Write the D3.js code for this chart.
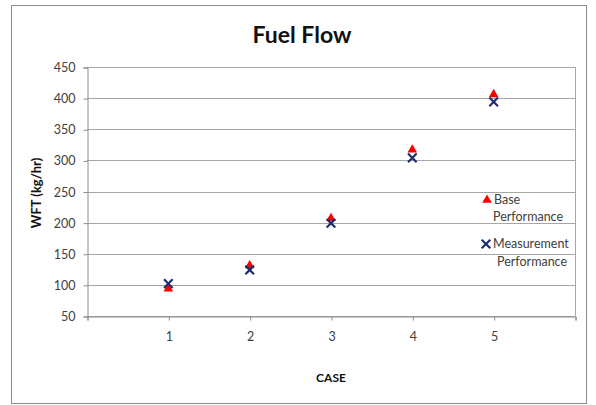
<!DOCTYPE html>
<html>
<head>
<meta charset="utf-8">
<script src="https://cdn.jsdelivr.net/npm/d3@7"></script>
<style>
  body { margin: 0; background: #fff; }
  svg text { font-family: Lato, "Open Sans", sans-serif; }
</style>
</head>
<body>
<svg id="canvas" width="596" height="405"></svg>
<script>
let cases = [1, 2, 3, 4, 5];
let basePerformance = [94, 131, 207, 317, 406];
let measurementPerformance = [102, 124, 199, 304, 394];
let yTicks = [50, 100, 150, 200, 250, 300, 350, 400, 450];
let xTicks = [0, 1, 2, 3, 4, 5, 6];

let canvas = d3.select('#canvas');

// outer chart frame
canvas.append('rect')
  .attr('x', 11.5).attr('y', 5.5)
  .attr('width', 575).attr('height', 398)
  .attr('fill', '#fff')
  .attr('stroke', '#8c8c8c');

let plotLeft = 87, plotRight = 575, plotTop = 67, plotBottom = 316;

let xScale = d3.scaleLinear().domain([0, 6]).range([plotLeft, plotRight]);
let yScale = d3.scaleLinear().domain([50, 450]).range([plotBottom, plotTop]);

// gridlines
canvas.append('g')
  .selectAll('line')
  .data(yTicks)
  .enter()
  .append('line')
  .attr('x1', plotLeft).attr('x2', plotRight)
  .attr('y1', (d) => Math.round(yScale(d)) + 0.5)
  .attr('y2', (d) => Math.round(yScale(d)) + 0.5)
  .attr('stroke', '#a6a6a6');

// right border of plot area
canvas.append('line')
  .attr('x1', plotRight + 0.5).attr('x2', plotRight + 0.5)
  .attr('y1', plotTop).attr('y2', plotBottom)
  .attr('stroke', '#a6a6a6');

// y axis
let yAxis = d3.axisLeft(yScale).tickValues(yTicks).tickSize(4).tickPadding(8);
let gy = canvas.append('g')
  .attr('transform', 'translate(' + (plotLeft + 0.5) + ',0.5)')
  .call(yAxis);

// x axis
let xAxis = d3.axisBottom(xScale).tickValues(xTicks).tickSize(4).tickPadding(12)
  .tickFormat((d) => (d >= 1 && d <= 5 ? d : ''));
let gx = canvas.append('g')
  .attr('transform', 'translate(0.5,' + (plotBottom + 0.5) + ')')
  .call(xAxis);

[gx, gy].forEach((g) => {
  g.select('.domain').attr('stroke', '#8c8c8c');
  g.selectAll('.tick line').attr('stroke', '#8c8c8c');
  g.selectAll('.tick text')
    .attr('fill', '#404040')
    .style('font-size', '12.5px')
    .style('font-family', 'Lato, sans-serif');
});

// markers
let triangle = d3.symbol().type(d3.symbolTriangle).size(40);

canvas.append('g')
  .selectAll('path')
  .data(cases)
  .enter()
  .append('path')
  .attr('d', triangle)
  .attr('transform', (d, i) => 'translate(' + xScale(d) + ',' + yScale(basePerformance[i]) + ')')
  .attr('fill', '#ff0000');

let drawCross = (g, cx, cy) => {
  let s = 4.3;
  g.append('path')
    .attr('d', 'M' + (cx - s) + ',' + (cy - s) + 'L' + (cx + s) + ',' + (cy + s) +
      'M' + (cx - s) + ',' + (cy + s) + 'L' + (cx + s) + ',' + (cy - s))
    .attr('stroke', '#1f2d6e')
    .attr('stroke-width', 2.2)
    .attr('fill', 'none');
};

let crosses = canvas.append('g');
cases.forEach((d, i) => {
  drawCross(crosses, xScale(d), yScale(measurementPerformance[i]));
});

// title
canvas.append('text')
  .attr('x', 302).attr('y', 43)
  .attr('text-anchor', 'middle')
  .style('font-size', '23px')
  .style('font-weight', 'bold')
  .attr('fill', '#111')
  .text('Fuel Flow');

// axis titles
canvas.append('text')
  .attr('transform', 'translate(41,193) rotate(-90)')
  .attr('text-anchor', 'middle')
  .style('font-size', '13px')
  .style('font-weight', 'bold')
  .attr('fill', '#111')
  .text('WFT (kg/hr)');

canvas.append('text')
  .attr('x', 331).attr('y', 382)
  .attr('text-anchor', 'middle')
  .style('font-size', '12px')
  .style('font-weight', 'bold')
  .attr('fill', '#111')
  .text('CASE');

// legend
let legend = canvas.append('g');
legend.append('path')
  .attr('d', triangle)
  .attr('transform', 'translate(487,200)')
  .attr('fill', '#ff0000');
legend.append('text').attr('x', 494).attr('y', 204)
  .style('font-size', '12.5px').attr('fill', '#404040').text('Base');
legend.append('text').attr('x', 493).attr('y', 221)
  .style('font-size', '12.5px').attr('fill', '#404040').text('Performance');
drawCross(legend, 486, 244);
legend.append('text').attr('x', 493).attr('y', 248)
  .style('font-size', '12.5px').attr('fill', '#404040').text('Measurement');
legend.append('text').attr('x', 497).attr('y', 266)
  .style('font-size', '12.5px').attr('fill', '#404040').text('Performance');
</script>
</body>
</html>
